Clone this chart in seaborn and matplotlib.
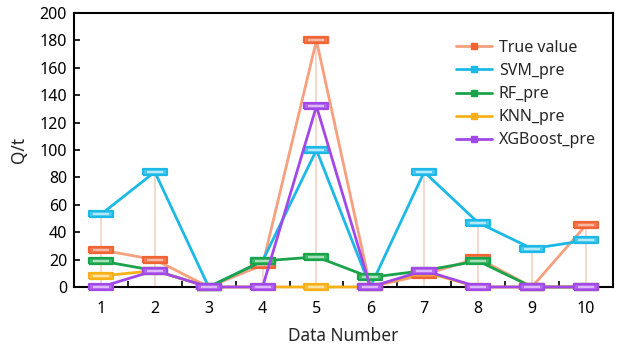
import numpy as np
import pandas as pd
import matplotlib
matplotlib.use("Agg")
import matplotlib.pyplot as plt
import seaborn as sns

# valores
data_number = [1, 2, 3, 4, 5, 6, 7, 8, 9, 10]
true_value = [27, 20, 0, 16, 180, 0, 9, 21, 0, 45]
svm_pre = [53, 84, 0, 19, 100, 0, 84, 47, 28, 34]
rf_pre = [19, 12, 0, 19, 22, 7, 12, 19, 0, 0]
knn_pre = [8, 12, 0, 0, 0, 0, 11, 0, 0, 0]
xgb_pre = [0, 12, 0, 0, 132, 0, 12, 0, 0, 0]

SERIES = ["True value", "SVM_pre", "RF_pre", "KNN_pre", "XGBoost_pre"]
VALUES = [true_value, svm_pre, rf_pre, knn_pre, xgb_pre]
LINE_C = ["#f5a07e", "#1cb8e6", "#1ba34b", "#f7b117", "#a348e8"]
EDGE_C = ["#f06434", "#1cb8e6", "#1ba34b", "#f7b117", "#a348e8"]
FACE_C = ["#f47a52", "#4cc8ee", "#3cb866", "#f9c040", "#b366ee"]
STRIPE_C = ["#f7b9a3", "#b5e8f8", "#a8e0bb", "#fde2a4", "#ddb9f7"]

sns.set_theme(style="white")
plt.rcParams["font.family"] = ["Noto Sans", "DejaVu Sans"]

rows = [{"Data Number": x, "Q/t": v, "serie": s}
        for s, vals in zip(SERIES, VALUES) for x, v in zip(data_number, vals)]
df = pd.DataFrame(rows)

fig = plt.figure(figsize=(6.24, 3.52), dpi=100)
ax = fig.add_axes([0.1186, 0.1847, 0.8634, 0.7783])

# líneas verticales tipo alto-bajo (de 0 al máximo de cada punto)
top = np.max(np.array(VALUES), axis=0)
ax.vlines(data_number, 0, top, color="#f2d2c6", lw=1.2, zorder=1)

rect = [(-3.4, -1), (3.4, -1), (3.4, 1), (-3.4, 1), (-3.4, -1)]
sns.lineplot(df, x="Data Number", y="Q/t", hue="serie", hue_order=SERIES,
             palette=LINE_C, ax=ax, lw=2, marker=rect, markersize=17,
             legend=False)
for i, (line, ec, fc) in enumerate(zip(ax.lines, EDGE_C, FACE_C)):
    line.set_markeredgecolor(ec)
    line.set_markerfacecolor(fc)
    line.set_markeredgewidth(1.6)
    line.set_clip_on(False)
    line.set_zorder(3 + 0.1 * i)

# franja clara dentro de cada marcador, justo encima de su serie
for i, (vals, sc) in enumerate(zip(VALUES, STRIPE_C)):
    ln, = ax.plot(data_number, vals, ls="none", marker="_", markersize=12,
                  markeredgewidth=1.6, color=sc, zorder=3.05 + 0.1 * i)
    ln.set_clip_on(False)

handles = [plt.Line2D([], [], color=lc, lw=2, marker="s", markersize=5,
                      markerfacecolor=ec, markeredgecolor=ec)
           for lc, ec in zip(LINE_C, EDGE_C)]
ax.legend(handles, SERIES, loc="upper right", frameon=False, fontsize=11.5,
          handlelength=2.3, handletextpad=0.4, labelspacing=0.45,
          bbox_to_anchor=(0.995, 0.955))

ax.set_xlim(0.5, 10.5)
ax.set_ylim(0, 200)
ax.set_xticks(data_number)
ax.set_xticks(np.arange(1.5, 10.5, 1), minor=True)
ax.set_yticks(range(0, 201, 20))
ax.tick_params(axis="both", which="both", direction="in", length=4, width=1.2,
               labelsize=11.5, colors="black", bottom=True, left=True)
ax.tick_params(axis="x", which="major", length=0, pad=10)
ax.tick_params(axis="y", pad=5)
ax.set_xlabel("Data Number", fontsize=12.5, labelpad=7)
ax.set_ylabel("Q/t", fontsize=12.5, labelpad=8)
for sp in ax.spines.values():
    sp.set_color("black")
    sp.set_linewidth(1.5)

fig.savefig("out.png", dpi=100)
